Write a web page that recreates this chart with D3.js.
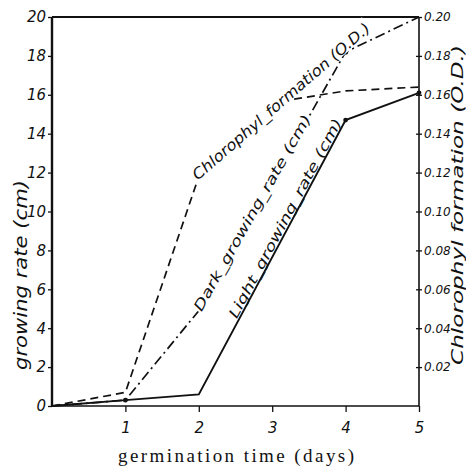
<!DOCTYPE html>
<html lang="en">
<head>
<meta charset="UTF-8">
<title>germination</title>
<script src="https://cdn.jsdelivr.net/npm/d3@7/dist/d3.min.js"></script>
<style>
  body { margin: 0; background: #fff; }
  .hand { font-family: "DejaVu Sans", sans-serif; font-style: italic; fill: #111; }
</style>
</head>
<body>
<script>
// values
var days = [0, 1, 2, 3, 4, 5];
var lightGrowth = [0, 0.3, 0.6, null, 14.7, 16.1];   // cm
var darkGrowth = [0, 0.3, 4.9, null, 18.2, 20.0];    // cm
var chlorophyll = [0, 0.007, 0.118, 0.156, 0.162, 0.164]; // O.D.
var leftTicks = [0, 2, 4, 6, 8, 10, 12, 14, 16, 18, 20];
var rightTicks = [0.02, 0.04, 0.06, 0.08, 0.10, 0.12, 0.14, 0.16, 0.18, 0.20];
var xTicks = [1, 2, 3, 4, 5];

var W = 466, H = 469;
var svg = d3.select("body").append("svg")
    .attr("width", W).attr("height", H);

var x = d3.scaleLinear().domain([0, 5]).range([52, 419]);
var y = d3.scaleLinear().domain([0, 20]).range([406, 17]);
var yR = d3.scaleLinear().domain([0, 0.20]).range([406, 17]);

function pts(vals) {
    var out = [];
    vals.forEach(function(v, i) { if (v != null) out.push([days[i], v]); });
    return out;
}

// frame
svg.append("line").attr("x1", x(0)).attr("x2", x(5)).attr("y1", y(20)).attr("y2", y(20))
    .attr("stroke", "#111").attr("stroke-width", 2);
svg.append("line").attr("x1", x(0)).attr("x2", x(5)).attr("y1", y(0)).attr("y2", y(0))
    .attr("stroke", "#111").attr("stroke-width", 1.6);
svg.append("line").attr("x1", x(0)).attr("x2", x(0)).attr("y1", y(20)).attr("y2", y(0))
    .attr("stroke", "#111").attr("stroke-width", 2.4);
svg.append("line").attr("x1", x(5)).attr("x2", x(5)).attr("y1", y(20)).attr("y2", y(0))
    .attr("stroke", "#111").attr("stroke-width", 1.6);

// axes
var gl = svg.append("g").attr("transform", "translate(" + x(0) + ",0)")
    .call(d3.axisLeft(y).tickValues(leftTicks).tickSize(4).tickPadding(2).tickFormat(d3.format("d")));
var gr = svg.append("g").attr("transform", "translate(" + x(5) + ",0)")
    .call(d3.axisRight(yR).tickValues(rightTicks).tickSize(3).tickPadding(2).tickFormat(d3.format(".2f")));
var gb = svg.append("g").attr("transform", "translate(0," + y(0) + ")")
    .call(d3.axisBottom(x).tickValues(xTicks).tickSize(6).tickPadding(10).tickFormat(d3.format("d")));

[gl, gr, gb].forEach(function(g) {
    g.select(".domain").remove();
    g.selectAll(".tick line").attr("stroke", "#111").attr("stroke-width", 1.3);
    g.selectAll(".tick text").attr("class", "hand").attr("fill", "#111");
});
gl.selectAll(".tick text").style("font-size", "15px");
gr.selectAll(".tick text").style("font-size", "12px");
gb.selectAll(".tick text").style("font-size", "15px");
gr.selectAll(".tick line").attr("x1", -3);

// series
var line = d3.line().x(function(d) { return x(d[0]); });

svg.append("path").datum(pts(chlorophyll))
    .attr("d", line.y(function(d) { return yR(d[1]); }))
    .attr("fill", "none").attr("stroke", "#111").attr("stroke-width", 1.7)
    .attr("stroke-dasharray", "8,5");

svg.append("path").datum(pts(darkGrowth))
    .attr("d", line.y(function(d) { return y(d[1]); }))
    .attr("fill", "none").attr("stroke", "#111").attr("stroke-width", 1.7)
    .attr("stroke-dasharray", "10,4,2,4");

svg.append("path").datum(pts(lightGrowth))
    .attr("d", line.y(function(d) { return y(d[1]); }))
    .attr("fill", "none").attr("stroke", "#111").attr("stroke-width", 1.9);

// dots
svg.selectAll(".dotL").data(pts(lightGrowth).filter(function(d) { return d[0] > 0 && d[0] !== 2; }))
    .enter().append("circle")
    .attr("cx", function(d) { return x(d[0]); }).attr("cy", function(d) { return y(d[1]); })
    .attr("r", 2.4).attr("fill", "#111");
svg.selectAll(".dotD").data(pts(darkGrowth).filter(function(d) { return d[0] === 4; }))
    .enter().append("circle")
    .attr("cx", function(d) { return x(d[0]); }).attr("cy", function(d) { return y(d[1]); })
    .attr("r", 2.6).attr("fill", "#111");

// labels written along the curves
// onLine: the handwriting replaces the line (white band under the text)
function along(text, p0, angle, len, size, onLine) {
    var g = svg.append("g")
        .attr("transform", "translate(" + p0[0] + "," + p0[1] + ") rotate(" + angle + ")");
    var base = -2;
    if (onLine) {
        g.append("rect").attr("x", -1).attr("y", -size * 0.85).attr("width", len + 2)
            .attr("height", size * 0.85 + 4).attr("fill", "#fff");
        base = 3;
    }
    g.append("text").attr("class", "hand")
        .attr("y", base)
        .attr("textLength", len).attr("lengthAdjust", "spacingAndGlyphs")
        .style("font-size", size + "px")
        .text(text);
}
function seg(s, i0, i1, scale) {
    var a = [x(days[i0]), scale(s[i0])], b = [x(days[i1]), scale(s[i1])];
    return { a: a, b: b, ang: Math.atan2(b[1] - a[1], b[0] - a[0]) * 180 / Math.PI,
             len: Math.hypot(b[0] - a[0], b[1] - a[1]) };
}
function at(sg, f) { return [sg.a[0] + (sg.b[0] - sg.a[0]) * f, sg.a[1] + (sg.b[1] - sg.a[1]) * f]; }

var sC = seg(chlorophyll, 2, 3, yR);
along("Chlorophyl_formation (O.D.)", [sC.a[0] - 3, sC.a[1] + 2], -41, 230, 15, true);

var sD = seg(darkGrowth, 2, 4, y);
along("Dark_growing_rate (cm)", at(sD, 0.0), sD.ang, sD.len * 0.75, 14, true);

var sL = seg(lightGrowth, 2, 4, y);
along("Light_growing_rate (cm)", at(sL, 0.27), sL.ang, sL.len * 0.72, 14, false);

// axis titles
svg.append("text").attr("class", "hand")
    .attr("transform", "translate(27,275) rotate(-90)")
    .attr("text-anchor", "middle").attr("textLength", 190).attr("lengthAdjust", "spacingAndGlyphs")
    .style("font-size", "18px").text("growing rate (cm)");
svg.append("text").attr("class", "hand")
    .attr("transform", "translate(463,205) rotate(-90)")
    .attr("text-anchor", "middle").attr("textLength", 320).attr("lengthAdjust", "spacingAndGlyphs")
    .style("font-size", "16px").text("Chlorophyl formation (O.D.)");
svg.append("text")
    .attr("x", 236).attr("y", 462).attr("text-anchor", "middle")
    .attr("textLength", 236).attr("lengthAdjust", "spacing")
    .style("font-family", "'Liberation Serif', serif").style("font-size", "19px")
    .attr("fill", "#111").text("germination time (days)");
</script>
</body>
</html>
